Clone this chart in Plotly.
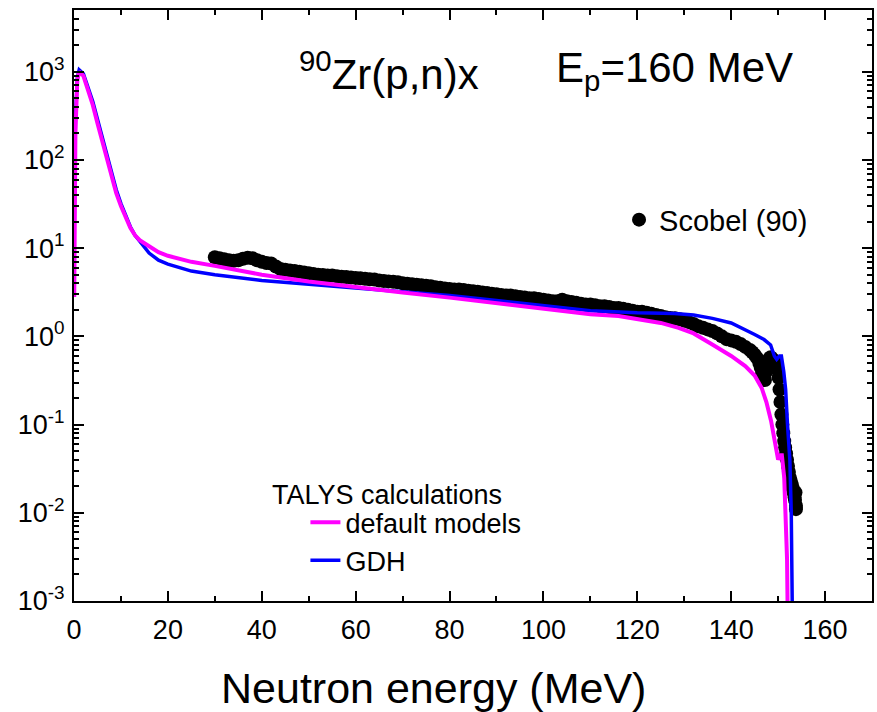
import plotly.graph_objects as go

# ---------------- data ----------------
# TALYS default models (magenta)
def_E = [0.05, 0.3, 0.7, 1.1, 2, 3, 4, 5, 6, 7, 8, 9, 10, 11, 12, 13, 14, 16, 18, 20,
         25, 30, 40, 50, 60, 70, 80, 90, 100, 110, 116, 120, 125, 128.8, 132, 135.8, 140,
         143, 145, 146.5, 147.5, 148.5, 149.5, 150, 150.5, 150.8, 151.3, 151.7, 151.9, 152]
def_Y = [2.8, 200, 800, 1000, 900, 620, 420, 260, 165, 100, 62, 42, 30, 22, 17, 14, 12.3,
         10.5, 9.0, 8.2, 7.0, 6.3, 5.0, 4.2, 3.6, 3.15, 2.75, 2.4, 2.05, 1.78, 1.7, 1.58,
         1.42, 1.25, 1.08, 0.82, 0.6, 0.46, 0.36, 0.26, 0.18, 0.11, 0.055, 0.04, 0.045,
         0.045, 0.025, 0.008, 0.003, 0.001]

# TALYS GDH (blue)
gdh_E = [0.05, 0.3, 0.7, 1.1, 2, 3, 4, 5, 6, 7, 8, 9, 10, 11, 12, 13, 14, 16, 18, 20,
         25, 30, 40, 50, 60, 70, 80, 90, 100, 110, 120, 128, 132, 136, 140, 143, 145, 147,
         148.4, 149.2, 149.7, 150.3, 150.7, 151.2, 151.6, 152, 152.5, 152.8, 153]
gdh_Y = [20, 300, 850, 1050, 950, 680, 460, 290, 180, 110, 70, 46, 32, 23, 17.5, 14, 12,
         8.8, 7.3, 6.6, 5.5, 5.0, 4.3, 3.9, 3.55, 3.2, 2.9, 2.55, 2.25, 1.95, 1.85, 1.82,
         1.75, 1.6, 1.42, 1.2, 1.05, 0.92, 0.8, 0.6, 0.55, 0.6, 0.6, 0.4, 0.25, 0.1, 0.04,
         0.01, 0.001]

# Scobel (90) experimental data
exp_E = [30, 31, 32, 33, 34, 35, 36, 37, 38, 39, 40, 41, 42, 43, 44, 45, 46, 47, 48, 49,
         50, 51, 52, 53, 54, 55, 56, 57, 58, 59, 60, 61, 62, 63, 64, 65, 66, 67, 68, 69,
         70, 71, 72, 73, 74, 75, 76, 77, 78, 79, 80, 81, 82, 83, 84, 85, 86, 87, 88, 89,
         90, 91, 92, 93, 94, 95, 96, 97, 98, 99, 100, 101, 102, 103, 104, 105, 106, 107,
         108, 109, 110, 111, 112, 113, 114, 115, 116, 117, 118, 119, 120, 121, 122, 123,
         124, 125, 126, 127, 128, 129, 130, 131, 132, 133, 134, 135, 136, 137, 138, 139,
         140, 141, 142, 143, 144, 144.5, 145, 145.5, 146, 146.3, 146.6, 146.9, 147.2, 147.5,
         147.8, 148.1, 148.4, 148.7, 149, 149.3, 149.6, 149.9, 150.1, 150.3, 150.5, 150.7,
         150.9, 151.1, 151.3, 151.5, 151.7, 151.9, 152.1, 152.3, 152.5, 152.7, 152.9,
         153.1, 153.3, 153.5, 153.6, 153.7, 153.8, 153.8]
exp_Y = [7.9, 7.7, 7.5, 7.3, 7.2, 7.3, 7.6, 7.8, 7.7, 7.3, 7.0, 6.8, 6.7, 6.2, 5.8, 5.7,
         5.6, 5.5, 5.4, 5.3, 5.2, 5.1, 5.0, 4.95, 4.9, 4.9, 4.8, 4.75, 4.7, 4.65, 4.6, 4.55,
         4.5, 4.45, 4.4, 4.3, 4.25, 4.2, 4.15, 4.1, 4.0, 3.95, 3.9, 3.85, 3.8, 3.75, 3.7,
         3.6, 3.55, 3.5, 3.45, 3.4, 3.4, 3.35, 3.3, 3.25, 3.2, 3.15, 3.1, 3.05, 3.0, 2.95,
         2.9, 2.9, 2.85, 2.8, 2.75, 2.7, 2.7, 2.65, 2.6, 2.55, 2.5, 2.5, 2.6, 2.5, 2.45,
         2.4, 2.35, 2.3, 2.3, 2.25, 2.2, 2.2, 2.15, 2.1, 2.1, 2.05, 2.0, 1.95, 1.9, 1.9,
         1.85, 1.8, 1.75, 1.7, 1.65, 1.62, 1.6, 1.56, 1.5, 1.45, 1.38, 1.3, 1.25, 1.2,
         1.15, 1.08, 1.0, 0.93, 0.9, 0.87, 0.82, 0.76, 0.7, 0.66, 0.62, 0.57, 0.5, 0.44,
         0.38, 0.34, 0.32, 0.4, 0.5, 0.56, 0.58, 0.56, 0.54, 0.52, 0.5, 0.42, 0.34, 0.25,
         0.18, 0.13, 0.1, 0.08, 0.065, 0.055, 0.047, 0.04, 0.034, 0.029, 0.025, 0.023,
         0.021, 0.019, 0.017, 0.015, 0.014, 0.017, 0.012, 0.011]

x_ticks = [0, 20, 40, 60, 80, 100, 120, 140, 160]
y_exponents = [-3, -2, -1, 0, 1, 2, 3]

FONT = "Liberation Sans, Arial, sans-serif"

fig = go.Figure()
fig.add_trace(go.Scatter(x=exp_E, y=exp_Y, mode="markers", name="Scobel (90)",
                         marker=dict(color="black", size=14), legend="legend",
                         showlegend=True))
fig.add_trace(go.Scatter(x=gdh_E, y=gdh_Y, mode="lines", name="GDH",
                         line=dict(color="#0000FF", width=3.5), legend="legend2",
                         showlegend=True))
fig.add_trace(go.Scatter(x=def_E, y=def_Y, mode="lines", name="default models",
                         line=dict(color="#FF00FF", width=4), legend="legend2",
                         showlegend=True))

minor_x = [v + 10 for v in x_ticks]
minor_y = [k * 10 ** e for e in y_exponents for k in range(2, 10)]

axis_common = dict(showline=True, linecolor="black", linewidth=2, mirror="ticks",
                   ticks="inside", ticklen=10, tickwidth=2, tickcolor="black",
                   showgrid=False, zeroline=False,
                   tickfont=dict(family=FONT, size=27, color="black"))

fig.update_xaxes(range=[0, 170], tickmode="array", tickvals=x_ticks,
                 ticktext=[str(v) for v in x_ticks], ticklabelstandoff=4,
                 minor=dict(ticks="inside", ticklen=5, tickwidth=2, tickcolor="black",
                            tickmode="array", tickvals=minor_x),
                 **axis_common)
fig.update_yaxes(type="log", range=[-3, 3.7], tickmode="array",
                 tickvals=[10 ** e for e in y_exponents],
                 ticktext=["10<sup>%d</sup>" % e for e in y_exponents],
                 ticklabelstandoff=2,
                 minor=dict(ticks="inside", ticklen=5, tickwidth=2, tickcolor="black",
                            tickmode="array", tickvals=minor_y),
                 **axis_common)

fig.update_layout(
    width=877, height=712,
    margin=dict(l=74, r=3, t=10, b=111),
    paper_bgcolor="white", plot_bgcolor="white",
    font=dict(family=FONT, color="black"),
    showlegend=True,
    legend=dict(x=0.683, y=0.645, xanchor="left", yanchor="middle",
                bgcolor="rgba(0,0,0,0)", font=dict(family=FONT, size=29)),
    legend2=dict(x=0.29, y=0.174, xanchor="left", yanchor="top",
                 traceorder="reversed", tracegroupgap=0,
                 bgcolor="rgba(0,0,0,0)", font=dict(family=FONT, size=27)),
    annotations=[
        dict(text="Neutron energy (MeV)", x=0.451, y=-0.147, xref="paper", yref="paper",
             xanchor="center", yanchor="middle", showarrow=False,
             font=dict(family=FONT, size=43, color="black")),
        dict(text="<sup>90</sup>Zr(p,n)x", x=0.279, y=0.897, xref="paper", yref="paper",
             xanchor="left", yanchor="middle", showarrow=False,
             font=dict(family=FONT, size=42, color="black")),
        dict(text="E<sub>p</sub>=160 MeV", x=0.601, y=0.897, xref="paper", yref="paper",
             xanchor="left", yanchor="middle", showarrow=False,
             font=dict(family=FONT, size=42, color="black")),
        dict(text="TALYS calculations", x=0.246, y=0.18, xref="paper", yref="paper",
             xanchor="left", yanchor="middle", showarrow=False,
             font=dict(family=FONT, size=27, color="black")),
    ],
)

fig.write_html("out.html")
